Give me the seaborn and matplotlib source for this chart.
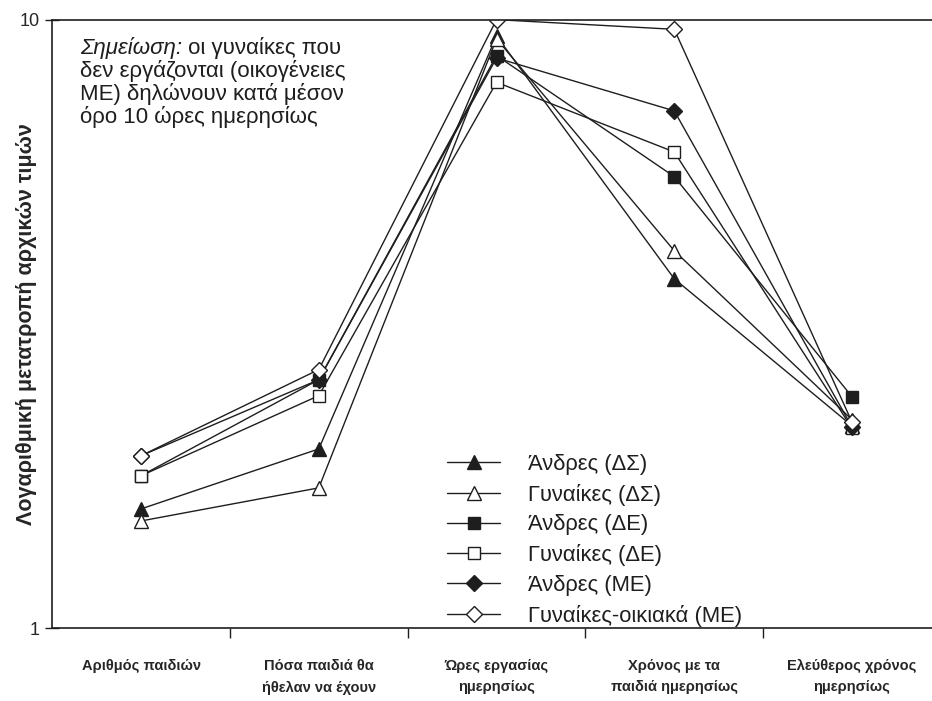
import matplotlib
matplotlib.use("Agg")
import matplotlib.pyplot as plt
from matplotlib.ticker import FixedLocator, NullLocator, NullFormatter
import numpy as np
import pandas as pd
import seaborn as sns

# Categories on the horizontal axis
categories = [
    "Αριθμός παιδιών",
    "Πόσα παιδιά θα\nήθελαν να έχουν",
    "Ώρες εργασίας\nημερησίως",
    "Χρόνος με τα\nπαιδιά ημερησίως",
    "Ελεύθερος χρόνος\nημερησίως",
]

# Series names (legend order)
series_names = [
    "Άνδρες (ΔΣ)",
    "Γυναίκες (ΔΣ)",
    "Άνδρες (ΔΕ)",
    "Γυναίκες (ΔΕ)",
    "Άνδρες (ΜΕ)",
    "Γυναίκες-οικιακά (ΜΕ)",
]

# Log-transformed values per series
andres_ds = [1.57, 1.97, 9.40, 3.75, 2.15]
gynaikes_ds = [1.50, 1.70, 9.30, 4.17, 2.20]
andres_de = [1.78, 2.56, 8.73, 5.52, 2.40]
gynaikes_de = [1.78, 2.41, 7.89, 6.06, 2.13]
andres_me = [1.92, 2.56, 8.65, 7.08, 2.14]
gynaikes_me = [1.92, 2.66, 10.0, 9.64, 2.18]

values = [andres_ds, gynaikes_ds, andres_de, gynaikes_de, andres_me, gynaikes_me]

# Marker styles: (marker, filled)
marker_styles = [("^", True), ("^", False), ("s", True), ("s", False), ("D", True), ("D", False)]
marker_sizes = [10, 10, 8, 8, 8, 8]

sns.set_theme(style="white")
plt.rcParams["font.family"] = ["Liberation Sans", "DejaVu Sans"]

fig = plt.figure(figsize=(9.32, 7.01), dpi=100)
ax = fig.add_axes([0.056, 0.104, 0.944, 0.868])

ink = "#1e1e1e"
x_pos = np.arange(len(categories))

for name, vals, (mk, filled), ms in zip(series_names, values, marker_styles, marker_sizes):
    df = pd.DataFrame({"x": x_pos, "y": vals})
    sns.lineplot(
        data=df, x="x", y="y", ax=ax,
        color=ink, linewidth=1.0,
        marker=mk, markersize=ms,
        markerfacecolor=ink if filled else "white",
        markeredgecolor=ink, markeredgewidth=1.0,
        label=name,
    )

ax.set_yscale("log")
ax.set_ylim(1, 10)
ax.set_xlim(-0.5, 4.45)

ax.yaxis.set_major_locator(FixedLocator([1, 10]))
ax.yaxis.set_minor_locator(NullLocator())
ax.set_yticklabels(["1", "10"], fontsize=13)
ax.tick_params(axis="y", which="major", direction="inout", length=10, width=1,
               color=ink, pad=4, left=True)

ax.set_xticks(x_pos)
ax.set_xticklabels(categories, fontsize=10.5, fontweight="bold",
                   linespacing=1.7)
ax.tick_params(axis="x", which="major", length=0, pad=22)
ax.xaxis.set_minor_locator(FixedLocator([0.5, 1.5, 2.5, 3.5]))
ax.xaxis.set_minor_formatter(NullFormatter())
ax.tick_params(axis="x", which="minor", direction="out", length=7, width=1,
               color=ink, bottom=True)

ax.set_xlabel("")
ax.set_ylabel("Λογαριθμική μετατροπή αρχικών τιμών", fontsize=15.5,
              fontweight="bold")
ax.yaxis.set_label_coords(-0.017, 0.5)

for side in ("left", "bottom", "top"):
    ax.spines[side].set_color(ink)
    ax.spines[side].set_linewidth(1.2)
ax.spines["right"].set_visible(False)

leg = ax.legend(loc="lower left", bbox_to_anchor=(0.439, -0.012), frameon=False,
                fontsize=15.8, handlelength=2.4, handletextpad=1.3,
                labelspacing=0.4, borderaxespad=0.0)
for txt in leg.get_texts():
    txt.set_color(ink)

# Note in the upper-left corner
note_x = 0.032
note_first = ax.text(note_x, 0.954, "Σημείωση:", transform=ax.transAxes,
                     fontsize=16, style="italic", color=ink,
                     va="center", ha="left")
ax.annotate(" οι γυναίκες που", xy=(1, 0), xycoords=note_first,
            fontsize=16, color=ink, va="bottom", ha="left")
for y, line in zip([0.916, 0.878, 0.840],
                   ["δεν εργάζονται (οικογένειες",
                    "ΜΕ) δηλώνουν κατά μέσον",
                    "όρο 10 ώρες ημερησίως"]):
    ax.text(note_x, y, line, transform=ax.transAxes, fontsize=16,
            color=ink, va="center", ha="left")

fig.savefig("out.png", dpi=100)
